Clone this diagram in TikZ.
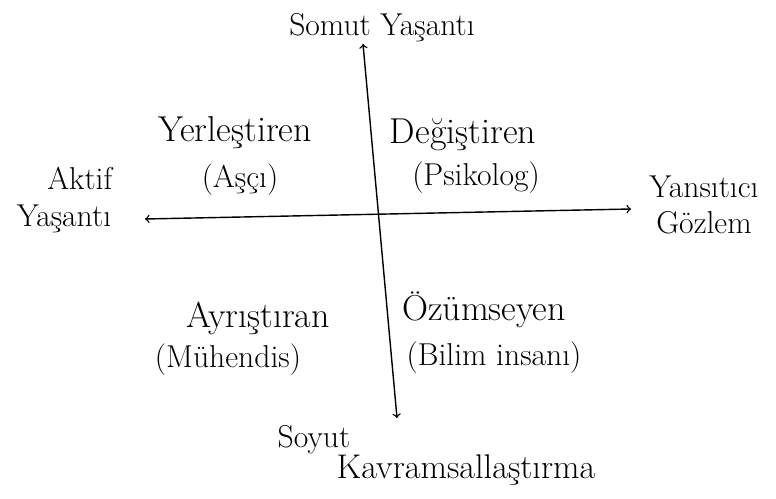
\documentclass[tikz,border=0pt]{standalone}
\usepackage{tikz}
\begin{document}
\begin{tikzpicture}[x=0.02cm, y=-0.02cm,
    axislabel/.style={font=\fontsize{18}{21}\selectfont, align=center},
    stylename/.style={font=\fontsize{20.5}{24}\selectfont},
    example/.style={font=\fontsize{18}{21}\selectfont}]
                \useasboundingbox (0,0) rectangle (776,499);

                \coordinate (top) at (363,44);
                \coordinate (bottom) at (397,418);
                \coordinate (left) at (145,219);
                \coordinate (right) at (631,209);

                \draw[<->, thick, line cap=round] (top) -- (bottom);
                \draw[<->, thick, line cap=round] (left) -- (right);

                \node[axislabel] (ce) at (382,28) {Somut Yaşantı};
                \node[axislabel] (soy) at (314,440) {Soyut};
                \node[axislabel, font=\fontsize{19.5}{22}\selectfont] (kav) at (466,470) {Kavramsallaştırma};
                \node[axislabel] (ae) at (64,200) {\hspace*{1em}Aktif\\Yaşantı};
                \node[axislabel] (ro) at (704,205) {Yansıtıcı\\Gözlem};

                \node[stylename] (yer) at (235,133) {Yerleştiren};
                \node[example] (yerex) at (240,180) {(Aşçı)};
                \node[stylename] (deg) at (463,135) {Değiştiren};
                \node[example] (degex) at (476,178) {(Psikolog)};
                \node[stylename] (ayr) at (258,318) {Ayrıştıran};
                \node[example] (ayrex) at (228,360) {(Mühendis)};
                \node[stylename] (ozu) at (484,310) {Özümseyen};
                \node[example] (ozuex) at (494,358) {(Bilim insanı)};
            \end{tikzpicture}
\end{document}
